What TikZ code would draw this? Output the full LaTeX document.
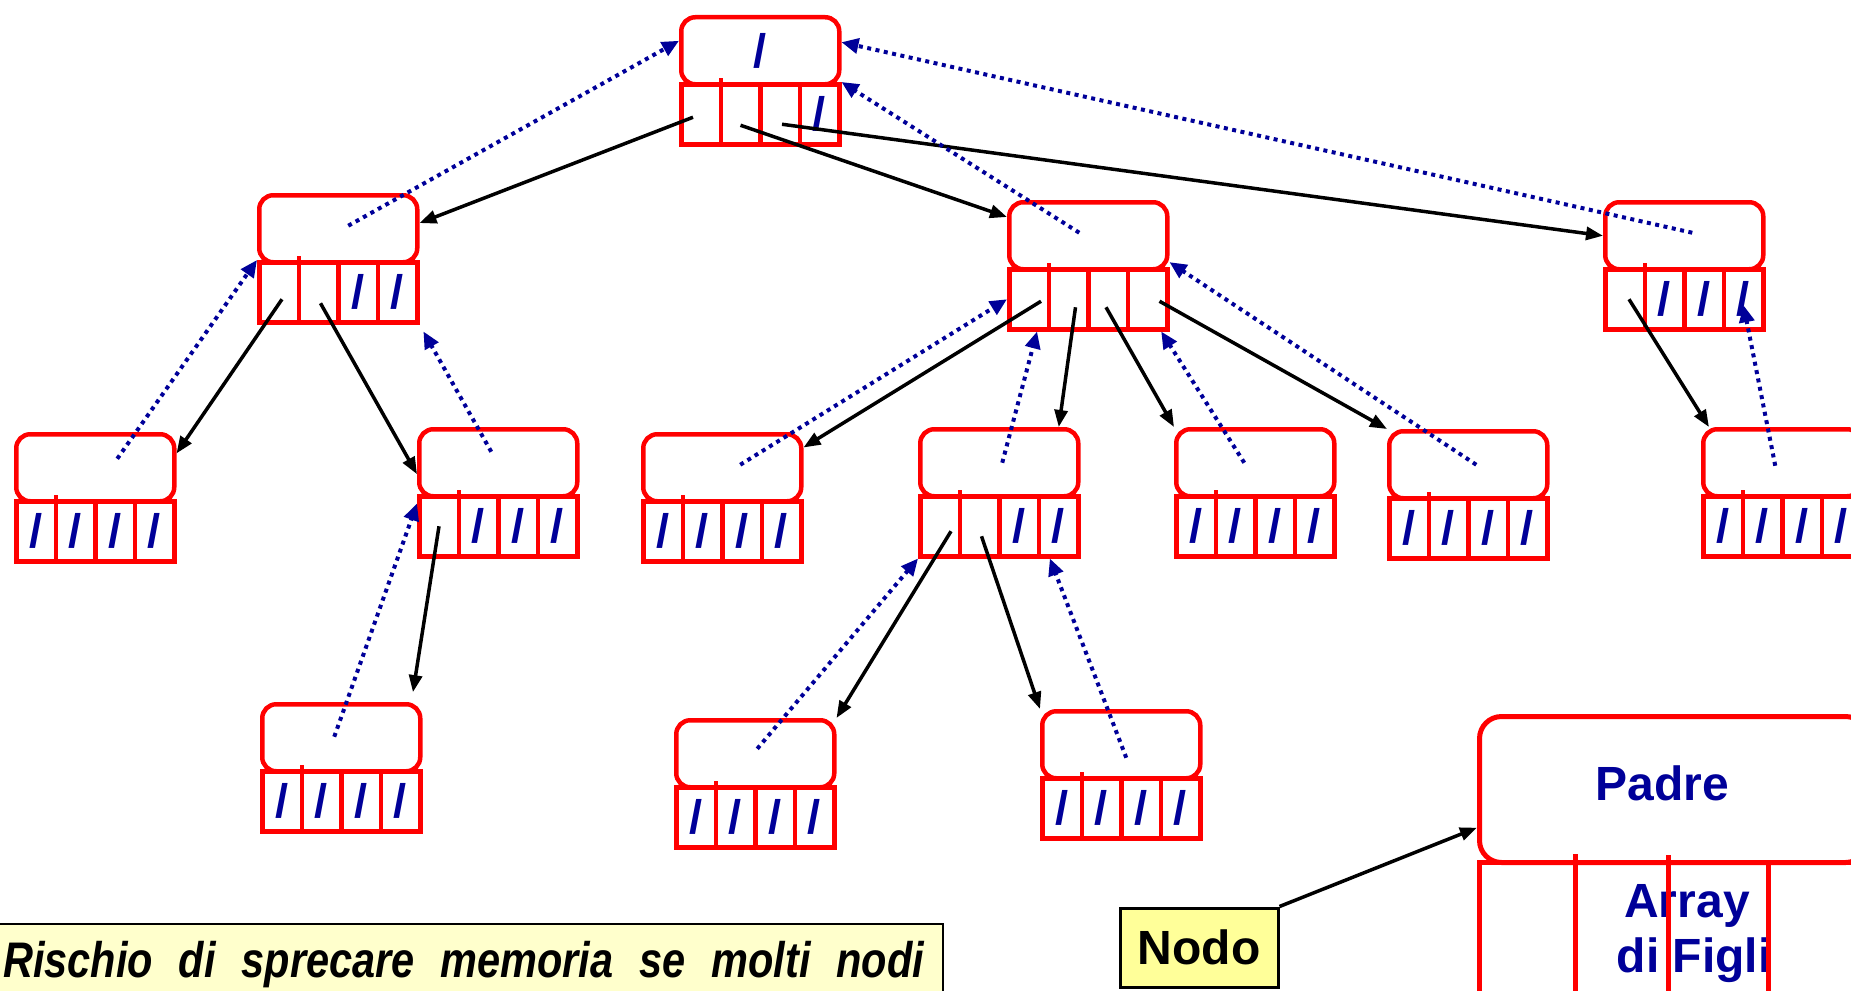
\documentclass[tikz,border=0pt]{standalone}
\usepackage{graphicx}
\usepackage{fontspec}
\setmainfont{Liberation Sans}
\usetikzlibrary{arrows.meta,calc}
\definecolor{nred}{RGB}{255,0,0}
\definecolor{nblue}{RGB}{0,0,153}
\definecolor{noteyellow}{RGB}{255,255,204}
\definecolor{tagyellow}{RGB}{255,255,153}
\newcommand{\slashfont}{\fontsize{47}{50}\selectfont\bfseries}
\newcommand{\legendfont}{\fontsize{48}{55}\selectfont\bfseries}
\tikzset{
  topbox/.style={draw=nred, line width=4.5pt, rounded corners=14pt, minimum width=158pt, minimum height=67pt, inner sep=0pt, anchor=north west, font=\slashfont, text=nblue},
  cellbox/.style={draw=nred, line width=4.5pt, minimum width=39.5pt, minimum height=60pt, inner sep=0pt, anchor=north west, font=\slashfont, text=nblue},
  legcell/.style={draw=nred, line width=5pt, minimum height=135pt, inner sep=0pt, anchor=north west},
  tolink/.style={-{Triangle[length=17pt,width=13pt]}, line width=3.5pt, black},
  uplink/.style={-{Triangle[length=17pt,width=15pt]}, line width=4pt, nblue, dash pattern=on 4pt off 4.5pt},
}
\newcommand{\tnode}[8]{%
  \node[topbox] (#1) at (#2,#3) {#4};
  \node[cellbox] (#1-c1) at (#2,#3+67) {#5};
  \node[cellbox] (#1-c2) at (#2+39.5,#3+67) {#6};
  \node[cellbox] (#1-c3) at (#2+79,#3+67) {#7};
  \node[cellbox] (#1-c4) at (#2+118.5,#3+67) {#8};
  \draw[draw=nred, line width=4pt] ([xshift=-2.25pt]#1-c1.north east) -- ++(0,-4);
}
\begin{document}
\begin{tikzpicture}[x=1pt,y=-1pt]
\useasboundingbox (0,0) rectangle (1851,990);
\clip (0,0) rectangle (1851,990);

% tree nodes
\tnode{root}{679}{15}{/}{}{}{}{/}
\tnode{L1a}{257}{193}{}{}{}{/}{/}
\tnode{L1b}{1007}{200}{}{}{}{}{}
\tnode{L1c}{1603}{200}{}{}{/}{/}{/}
\tnode{A}{14}{432}{}{/}{/}{/}{/}
\tnode{B}{417}{427}{}{}{/}{/}{/}
\tnode{C}{641}{432}{}{/}{/}{/}{/}
\tnode{D}{918}{427}{}{}{}{/}{/}
\tnode{E}{1174}{427}{}{/}{/}{/}{/}
\tnode{F}{1387}{429}{}{/}{/}{/}{/}
\tnode{G}{1701}{427}{}{/}{/}{/}{/}
\tnode{H}{260}{702}{}{/}{/}{/}{/}
\tnode{I}{674}{718}{}{/}{/}{/}{/}
\tnode{J}{1040}{709}{}{/}{/}{/}{/}

% legend node
\node[draw=nred, line width=5pt, rounded corners=22pt, minimum width=388pt, minimum height=146pt, anchor=north west, inner sep=0pt] (legend) at (1477,714) {};
\node[font=\legendfont, text=nblue] (padre) at (1662,783) {Padre};
\node[font=\legendfont, text=nblue, anchor=base] (arr1) at (1687,917) {Array};
\node[font=\legendfont, text=nblue, anchor=base] (arr2) at (1694,972) {di Figli};
\node[legcell, minimum width=96pt] (legend-c1) at (1477,860) {};
\node[legcell, minimum width=93pt] (legend-c2) at (1573,860) {};
\node[legcell, minimum width=100pt] (legend-c3) at (1666,860) {};
\node[legcell, minimum width=99pt] (legend-c4) at (1766,860) {};
\draw[draw=nred, line width=5pt] ([xshift=-2.5pt]legend-c1.north east) -- ++(0,-6);
\draw[draw=nred, line width=5pt] ([xshift=-2.5pt]legend-c2.north east) -- ++(0,-5);

% Nodo tag
\node[draw=black, line width=3pt, fill=tagyellow, minimum width=158pt, minimum height=79pt, inner sep=0pt, font=\legendfont] (nodo) at (1199,947.5) {Nodo};

% note box
\node[draw=black, line width=1.5pt, fill=noteyellow, anchor=north west, minimum width=944pt, minimum height=100pt, inner sep=0pt] (note) at (-2,923) {};
\node[anchor=base west, inner sep=0pt, font=\fontsize{50}{54}\selectfont\bfseries\itshape] (notetext) at (3,977) {\scalebox{0.83}[1]{\makebox[1109.6pt][s]{Rischio di sprecare memoria se molti nodi}}};

% child links
\draw[tolink] ([shift={(-8,3)}]root-c1.center) -- (L1a.4);
\draw[tolink] ([shift={(0,11)}]root-c2.center) -- (L1b.167);
\draw[tolink] ([shift={(2,10)}]root-c3.center) -- (L1c.west);
\draw[tolink] ([shift={(3,7)}]L1a-c1.center) -- (A.10);
\draw[tolink] ([shift={(2,11)}]L1a-c2.center) -- (B.188);
\draw[tolink] ([shift={(12,2)}]L1b-c1.center) -- (C.14);
\draw[tolink] ([shift={(7,8)}]L1b-c2.center) -- (D.31);
\draw[tolink] ([shift={(-2,8)}]L1b-c3.center) -- (E.north west);
\draw[tolink] ([shift={(12,2)}]L1b-c4.center) -- (F.north west);
\draw[tolink] ([shift={(4,0)}]L1c-c1.center) -- (G.154);
\draw[tolink, shorten >=10pt] (B-c1.center) -- (H.27);
\draw[tolink] ([shift={(11,5)}]D-c1.center) -- (I.north east);
\draw[tolink] ([shift={(2,10)}]D-c2.center) -- (J.north west);
\draw[tolink] (nodo.north east) -- (legend.191);

% parent links
\draw[uplink] ([shift={(10,-3)}]L1a.center) -- (root.173);
\draw[uplink] ([shift={(-9,-3)}]L1b.center) -- (root-c4.north east);
\draw[uplink] ([shift={(8,-3)}]L1c.center) -- (root.6);
\draw[uplink] ([shift={(22,-9)}]A.center) -- (L1a-c1.north west);
\draw[uplink, shorten >=8pt] ([shift={(-7,-11)}]B.center) -- (L1a-c4.south east);
\draw[uplink] ([shift={(18,-3)}]C.center) -- (L1b-c1.west);
\draw[uplink] ([shift={(3,0)}]D.center) -- (L1b-c1.-76);
\draw[uplink] ([shift={(-11,0)}]E.center) -- (L1b-c4.-67);
\draw[uplink] ([shift={(8,0)}]F.center) -- (L1b.-18);
\draw[uplink] ([shift={(-7,3)}]G.center) -- ([yshift=-6pt]L1c-c4.center);
\draw[uplink] ([shift={(-7,-1)}]H.center) -- (B-c1.134);
\draw[uplink] ([shift={(2,-5)}]I.center) -- (D-c1.south west);
\draw[uplink] ([shift={(5,13)}]J.center) -- (D-c4.-105);
\end{tikzpicture}
\end{document}
